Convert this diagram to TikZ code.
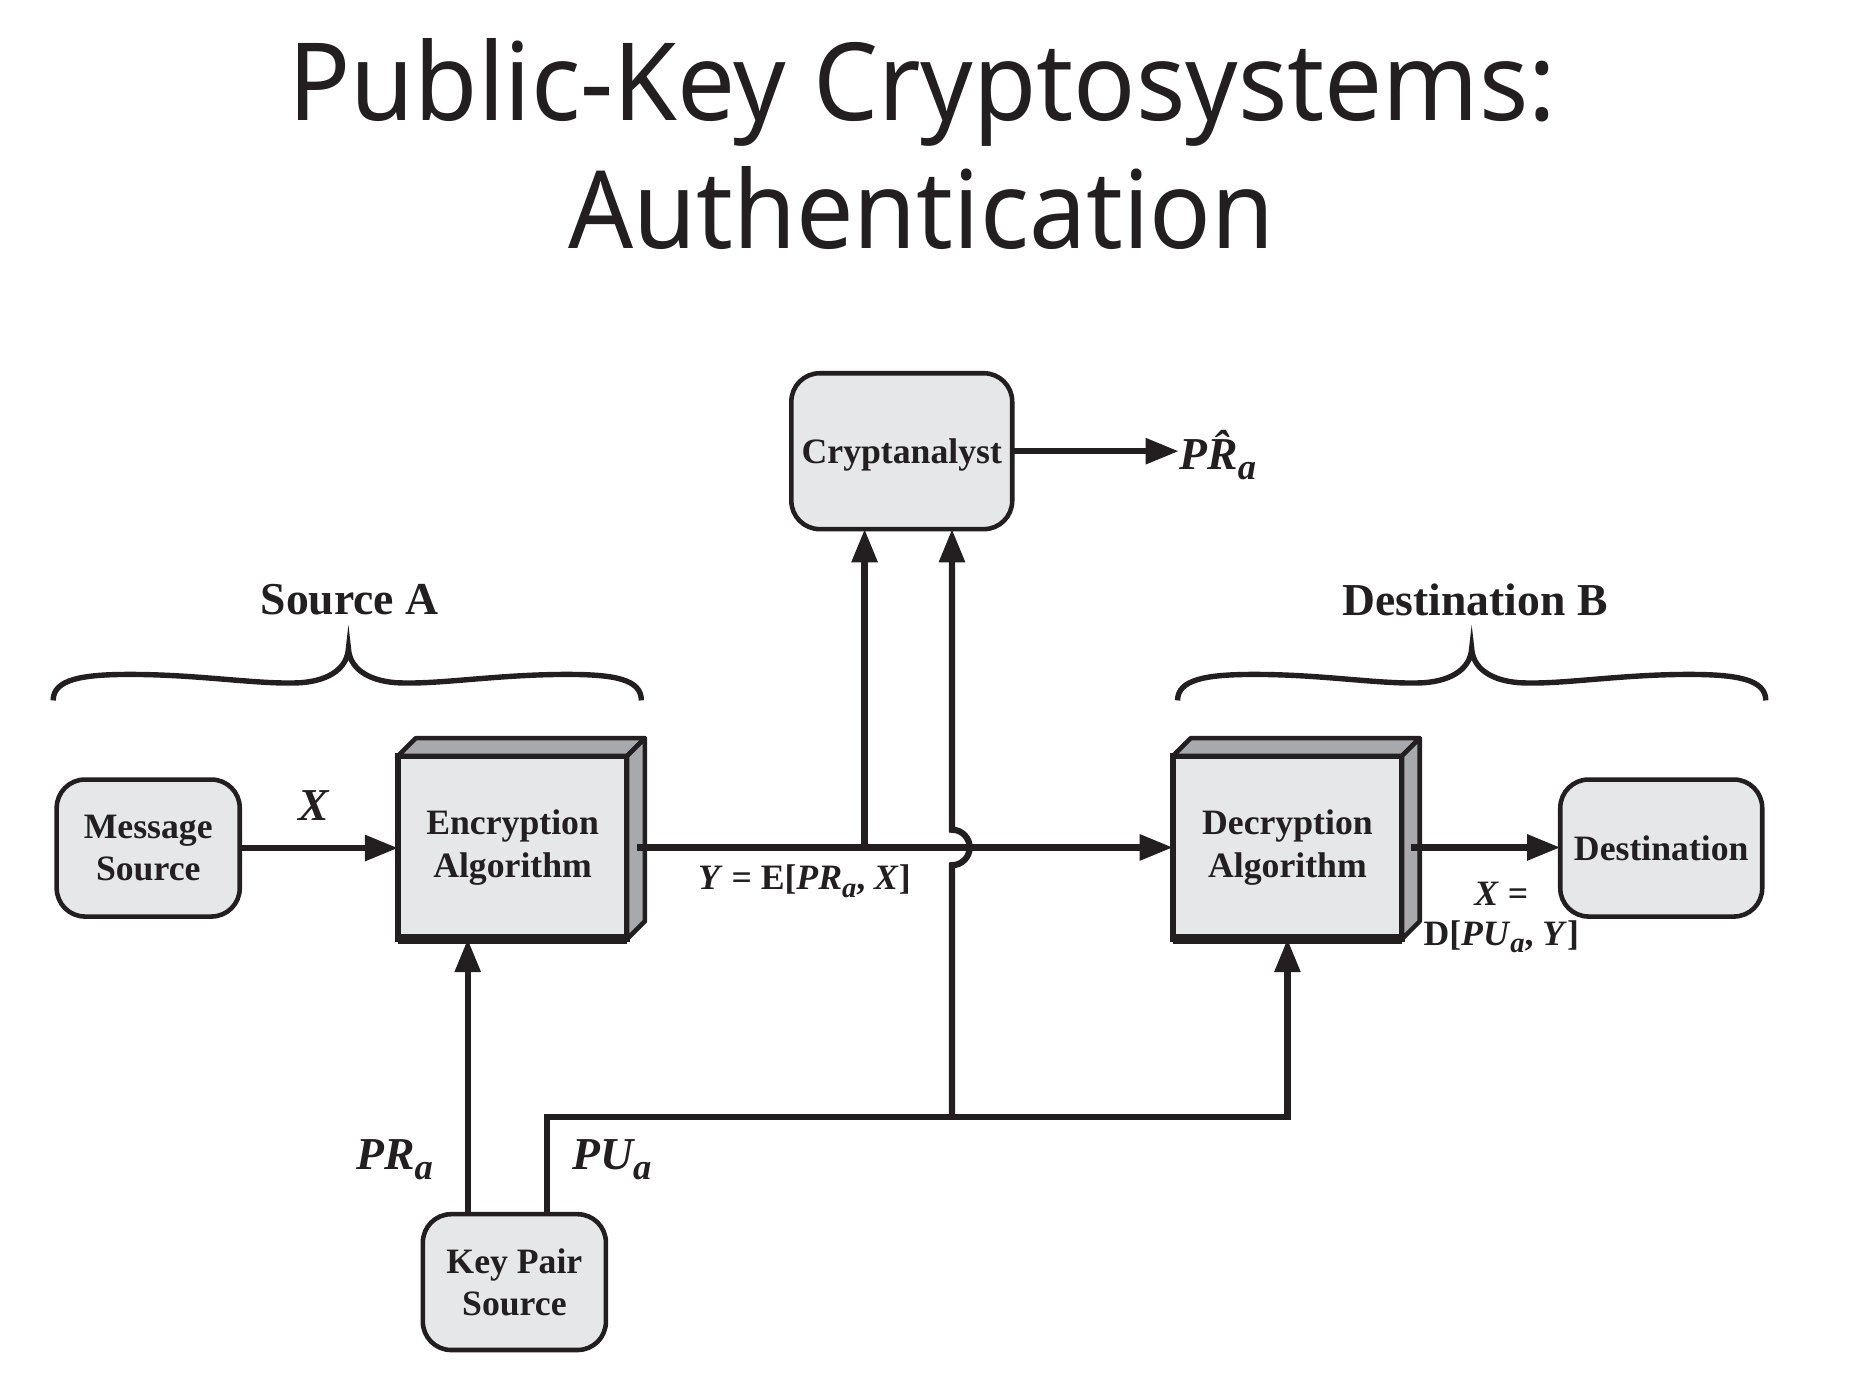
\documentclass[tikz,border=0pt]{standalone}
\usepackage{fontspec}
\setmainfont{Liberation Serif}
\newfontfamily\titlefont{Noto Sans}
\usepackage{graphicx}
\usetikzlibrary{arrows.meta,calc}
\definecolor{ink}{HTML}{231F20}
\definecolor{boxfill}{HTML}{E6E7E8}
\definecolor{sidefill}{HTML}{A7A9AC}
\newcommand{\lowsub}[1]{\raisebox{-0.45ex}{\scalebox{0.8}{#1}}}
\begin{document}
\begin{tikzpicture}[x=0.1mm,y=-0.1mm,
  every node/.style={text=ink},
  rbox/.style={draw=ink, line width=1.1pt, fill=boxfill, rounded corners=2.4mm, inner sep=0pt, outer sep=0pt, align=center, font=\bfseries\fontsize{8.6}{10.2}\selectfont},
  cbox/.style={draw=ink, line width=1.4pt, fill=boxfill, inner sep=0pt, outer sep=0pt, minimum width=19.4mm, minimum height=15.5mm, align=center, font=\bfseries\fontsize{8.6}{10.2}\selectfont},
  cubeface/.style={draw=ink, line width=1.1pt, fill=sidefill, line join=round},
  conn/.style={draw=ink, line width=1.5pt},
  arr/.style={conn, -{Triangle[length=8pt,width=6pt]}},
  lbl/.style={font=\bfseries\itshape\fontsize{11}{13}\selectfont, inner sep=0pt},
  eqlbl/.style={font=\bfseries\fontsize{8.6}{10.2}\selectfont, inner sep=0pt},
  headlbl/.style={font=\bfseries\fontsize{11}{13}\selectfont, inner sep=0pt},
  bracepath/.style={draw=ink, line width=1.3pt},
  titlelbl/.style={font=\titlefont\fontsize{26}{30}\selectfont, anchor=base, inner sep=0pt},
]
\useasboundingbox (0,0) rectangle (1568,1177);

% title
\node[titlelbl] (t1) at (781,102) {\scalebox{0.955}[1]{Public-Key Cryptosystems:}};
\node[titlelbl] (t2) at (780,210) {\scalebox{0.945}[1]{Authentication}};

% boxes
\node[rbox, minimum width=18.7mm, minimum height=13.2mm, text depth=-0.8mm] (cr) at (763.5,382) {Cryptanalyst};
\node[lbl, anchor=west] (prhat) at (998,385) {P\^{R}\lowsub{a}};

\node[rbox, minimum width=15.5mm, minimum height=11.6mm] (ms) at (125.5,718) {Message\\Source};
\node[cbox] (enc) at (434,717.5) {Encryption\\Algorithm};
\node[cbox] (dec) at (1090,717.5) {Decryption\\Algorithm};
\node[rbox, minimum width=17.1mm, minimum height=11.6mm] (dst) at (1406.5,718) {Destination};
\node[rbox, minimum width=15.5mm, minimum height=11.5mm] (kp) at (435.5,1085.5) {Key Pair\\Source};

% 3D faces
\draw[cubeface] (enc.north west) -- ++(15,-15) -- ($(enc.north east)+(15,-15)$) -- (enc.north east) -- cycle;
\draw[cubeface] (enc.north east) -- ++(15,-15) -- ($(enc.south east)+(15,-15)$) -- (enc.south east) -- cycle;
\draw[draw=ink, line width=2.2pt] (enc.south west) -- (enc.south east);
\draw[cubeface] (dec.north west) -- ++(15,-15) -- ($(dec.north east)+(15,-15)$) -- (dec.north east) -- cycle;
\draw[cubeface] (dec.north east) -- ++(15,-15) -- ($(dec.south east)+(15,-15)$) -- (dec.south east) -- cycle;
\draw[draw=ink, line width=2.2pt] (dec.south west) -- (dec.south east);

% headings and braces
\node[headlbl] (srcA) at (296,508) {Source A};
\node[headlbl] (dstB) at (1249,508) {Destination B};
\begin{scope}[shift={(295,0)}]
\draw[bracepath] (-250,593) .. controls (-250,575) and (-225,571) .. (-185,571)
  .. controls (-125,571) and (-75,580) .. (-40,578)
  .. controls (-15,576) and (-1,565) .. (0,549)
  .. controls (1,565) and (15,576) .. (40,578)
  .. controls (75,580) and (125,571) .. (185,571)
  .. controls (225,571) and (248,575) .. (248,593);
\end{scope}
\begin{scope}[shift={(1246,0)}]
\draw[bracepath] (-249,593) .. controls (-249,575) and (-224,571) .. (-184,571)
  .. controls (-124,571) and (-75,580) .. (-40,578)
  .. controls (-15,576) and (-1,565) .. (0,549)
  .. controls (1,565) and (15,576) .. (40,578)
  .. controls (75,580) and (124,571) .. (184,571)
  .. controls (224,571) and (249,575) .. (249,593);
\end{scope}

% connectors
\draw[arr] (cr.east) -- (cr.east -| prhat.west);
\draw[arr] (ms.east) -- (ms.east -| enc.west);
\node[lbl] (xl) at (266,682) {X};

\coordinate (encout) at ($(enc.east)+(8,0)$);
\draw[arr] (encout) -- (encout -| dec.west);
\node[eqlbl] (ylbl) at (681,746) {\textit{Y} = E[\textit{PR}\lowsub{\textit{a}}, \textit{X}]};

\coordinate (j1) at (732,0 |- encout);
\draw[arr] (j1) -- (j1 |- cr.south);

\coordinate (kpl) at (396,0 |- kp.north);
\draw[arr] (kpl) -- (kpl |- enc.south);
\coordinate (kpr) at (463,0 |- kp.north);
\coordinate (bus) at (463,946);
\draw[arr] (kpr) -- (bus) -- (bus -| dec.south) -- (dec.south);
\coordinate (j2) at (806,946);
\draw[arr] (j2) -- (806,732.5) .. controls (815,732.5) and (821,725) .. (821,717.5)
  .. controls (821,710) and (815,702.5) .. (806,702.5) -- (806,0 |- cr.south);

\node[lbl] (prlbl) at (334,982) {PR\lowsub{a}};
\node[lbl] (pulbl) at (518,982) {PU\lowsub{a}};

\coordinate (decout) at ($(dec.east)+(8,0)$);
\draw[arr] (decout) -- (decout -| dst.west);
\node[eqlbl] (xeq) at (1271,757) {\textit{X} =};
\node[eqlbl] (deq) at (1271,793) {D[\textit{PU}\lowsub{\textit{a}}, \textit{Y}]};
\end{tikzpicture}
\end{document}
